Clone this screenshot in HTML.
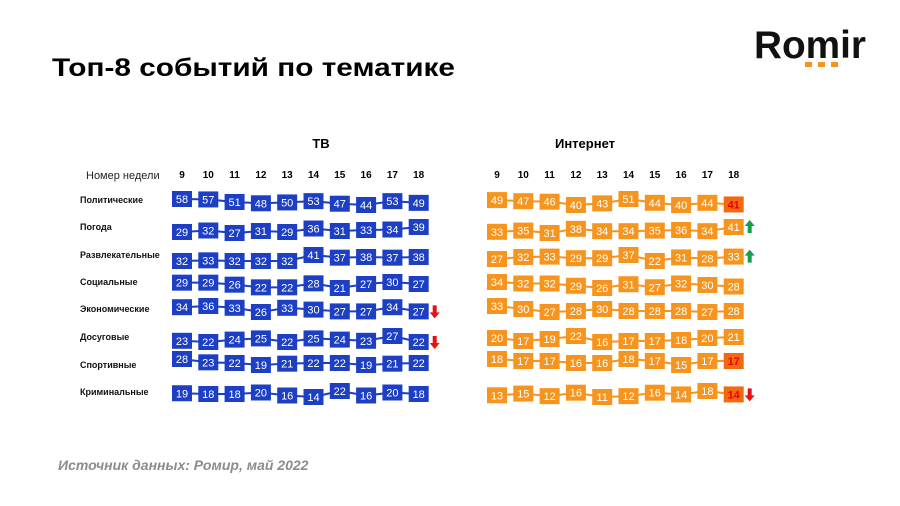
<!DOCTYPE html>
<html><head><meta charset="utf-8"><style>
body{margin:0;background:#fff}
svg{display:block;font-family:"Liberation Sans",Arial,sans-serif}
</style></head><body>
<svg id="c" width="900" height="506" viewBox="0 0 900 506">
<text x="52" y="76" font-size="25" font-weight="bold" fill="#000" textLength="403" lengthAdjust="spacingAndGlyphs">Топ-8 событий по тематике</text>
<text x="754" y="58" font-size="39" font-weight="bold" fill="#111" textLength="112" lengthAdjust="spacingAndGlyphs">Romir</text>
<rect x="805" y="62" width="7" height="5" fill="#f7941d"/>
<rect x="818" y="62" width="7" height="5" fill="#f7941d"/>
<rect x="831" y="62" width="7" height="5" fill="#f7941d"/>
<text x="321" y="148" font-size="13" font-weight="bold" text-anchor="middle">ТВ</text>
<text x="585" y="148" font-size="13" font-weight="bold" text-anchor="middle">Интернет</text>
<text x="86" y="179" font-size="11" fill="#222">Номер недели</text>
<text x="58" y="470" font-size="14" font-style="italic" font-weight="bold" fill="#8c8c8c">Источник данных: Ромир, май 2022</text>
<g id="g"></g>
</svg>
<script>
const weeks=[9,10,11,12,13,14,15,16,17,18];
const categories=["Политические","Погода","Развлекательные","Социальные","Экономические","Досуговые","Спортивные","Криминальные"];
const tvValues=[
[58,57,51,48,50,53,47,44,53,49],
[29,32,27,31,29,36,31,33,34,39],
[32,33,32,32,32,41,37,38,37,38],
[29,29,26,22,22,28,21,27,30,27],
[34,36,33,26,33,30,27,27,34,27],
[23,22,24,25,22,25,24,23,27,22],
[28,23,22,19,21,22,22,19,21,22],
[19,18,18,20,16,14,22,16,20,18]];
const netValues=[
[49,47,46,40,43,51,44,40,44,41],
[33,35,31,38,34,34,35,36,34,41],
[27,32,33,29,29,37,22,31,28,33],
[34,32,32,29,26,31,27,32,30,28],
[33,30,27,28,30,28,28,28,27,28],
[20,17,19,22,16,17,17,18,20,21],
[18,17,17,16,16,18,17,15,17,17],
[13,15,12,16,11,12,16,14,18,14]];
const tvArrows=[null,null,null,null,"down","down",null,null];
const netArrows=[null,"up","up",null,null,null,null,"down"];
const netHighlight=[true,false,false,false,false,false,true,true];

const NS="http://www.w3.org/2000/svg";
const g=document.getElementById('g');
const rowY=[202,230,258,285,309,339,362,394];
const labelY=[203,230,258,285,312,340,368,395];
function colX(start,i){return start+i*26.3;}
function mk(t,a){const e=document.createElementNS(NS,t);for(const k in a)e.setAttribute(k,a[k]);g.appendChild(e);return e;}

categories.forEach((c,r)=>{
  const t=mk('text',{x:80,y:labelY[r],'font-size':9,'font-weight':'bold',fill:'#111'});
  
  
  t.textContent=c;
});

function panel(vals,start,color,arrows,hl,name){
  weeks.forEach((w,i)=>{
    const t=mk('text',{x:colX(start,i),y:178,'font-size':10,'font-weight':'bold','text-anchor':'middle'});
    
    
    t.textContent=w;
  });
  vals.forEach((row,r)=>{
    const mn=Math.min(...row),mx=Math.max(...row);
    const ys=row.map(v=>rowY[r]+ (mx===mn?0:(0.5-(v-mn)/(mx-mn))*6));
    for(let i=0;i<row.length-1;i++){
      const l=mk('line',{x1:colX(start,i),y1:ys[i],x2:colX(start,i+1),y2:ys[i+1],stroke:color,'stroke-width':2});
      
      
    }
    row.forEach((v,i)=>{
      const last=i===row.length-1&&hl&&hl[r];
      const b=mk('rect',{x:colX(start,i)-10,y:ys[i]-8,width:20,height:16,fill:last?'#f26a10':color});
      
      
      const t=mk('text',{x:colX(start,i),y:ys[i]+4,'font-size':11,'text-anchor':'middle',fill:last?'#e00':'#fff','font-weight':last?'bold':'normal'});
      
      
      t.textContent=v;
    });
    if(arrows[r]){
      const x=colX(start,9)+16,y=ys[9];
      const up=arrows[r]==='up';
      const col=up?'#12a04a':'#e81010';
      const p=up?`M${x-2},${y+6} L${x-2},${y-1} L${x-5},${y-1} L${x},${y-7} L${x+5},${y-1} L${x+2},${y-1} L${x+2},${y+6} Z`
                :`M${x-2},${y-6} L${x-2},${y+1} L${x-5},${y+1} L${x},${y+7} L${x+5},${y+1} L${x+2},${y+1} L${x+2},${y-6} Z`;
      const a=mk('path',{d:p,fill:col});
      
      
    }
  });
}
panel(tvValues,182,'#1c3fc4',tvArrows,null,'tv');
panel(netValues,497,'#f7941d',netArrows,netHighlight,'internet');
</script>
</body></html>
